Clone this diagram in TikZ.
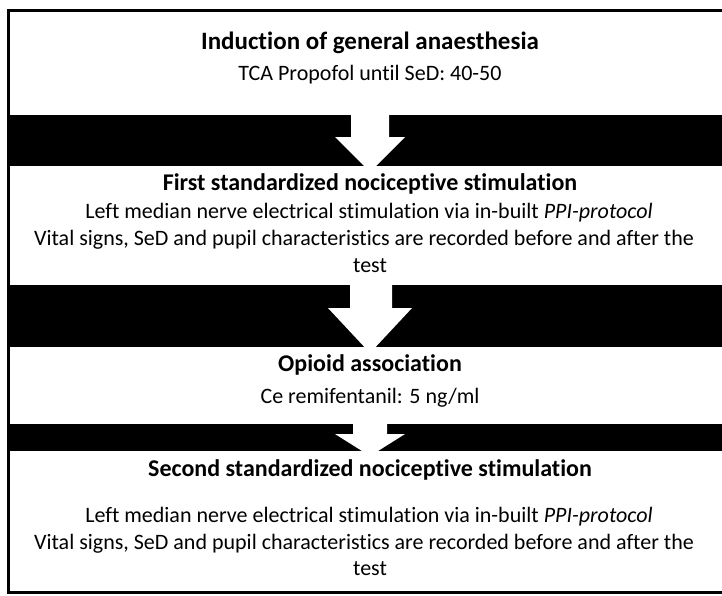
\documentclass[tikz,border=0pt]{standalone}
\usepackage{fontspec}
\setmainfont{Carlito}[Ligatures=NoCommon]
\begin{document}
\begin{tikzpicture}[x=1pt,y=-1pt,
  title/.style={font=\fontsize{24}{28}\selectfont\bfseries, inner sep=0pt, text height=0.72em, text depth=0.2em},
  bigtitle/.style={title, font=\fontsize{25}{29}\selectfont\bfseries},
  body/.style={font=\fontsize{22}{26}\selectfont, inner sep=0pt, text height=0.72em, text depth=0.2em},
  band/.style={fill=black},
  barrow/.style={fill=white}]
\useasboundingbox (0,0) rectangle (722,595);
\fill[white] (0,0) rectangle (722,595);
% bands
\fill[band] (8,115) rectangle (722,166);
\fill[band] (8,285) rectangle (722,347);
\fill[band] (8,424) rectangle (722,451);
% block arrows
\fill[barrow] (351,114) -- (389,114) -- (389,137) -- (405,137) -- (370,172) -- (335,137) -- (351,137) -- cycle;
\fill[barrow] (350,284) -- (392,284) -- (392,308) -- (412,308) -- (370,353) -- (328,308) -- (350,308) -- cycle;
\fill[barrow] (353,423) -- (387,423) -- (387,434) -- (405,434) -- (370,456) -- (335,434) -- (353,434) -- cycle;
% frame
\draw[line width=3pt] (724,10.5) -- (8.5,10.5) -- (8.5,592.5) -- (724,592.5);
% texts
\node[bigtitle] (t1) at (370,47) {Induction of general anaesthesia};
\node[body] (b1) at (370,78) {TCA Propofol until SeD: 40-50};
\node[title] (t2) at (370,188) {First standardized nociceptive stimulation};
\node[body] (b2a) at (369,216) {Left median nerve electrical stimulation via in-built \textit{PPI-protocol}};
\node[body] (b2b) at (364,243) {Vital signs, SeD and pupil characteristics are recorded before and after the};
\node[body] (b2c) at (370,270) {test};
\node[title] (t3) at (370,369) {Opioid association};
\node[body] (b3) at (370,401) {Ce remifentanil: 5 ng/ml};
\node[title] (t4) at (370,474) {Second standardized nociceptive stimulation};
\node[body] (b4a) at (369,520) {Left median nerve electrical stimulation via in-built \textit{PPI-protocol}};
\node[body] (b4b) at (364,547) {Vital signs, SeD and pupil characteristics are recorded before and after the};
\node[body] (b4c) at (370,573) {test};
\end{tikzpicture}
\end{document}
